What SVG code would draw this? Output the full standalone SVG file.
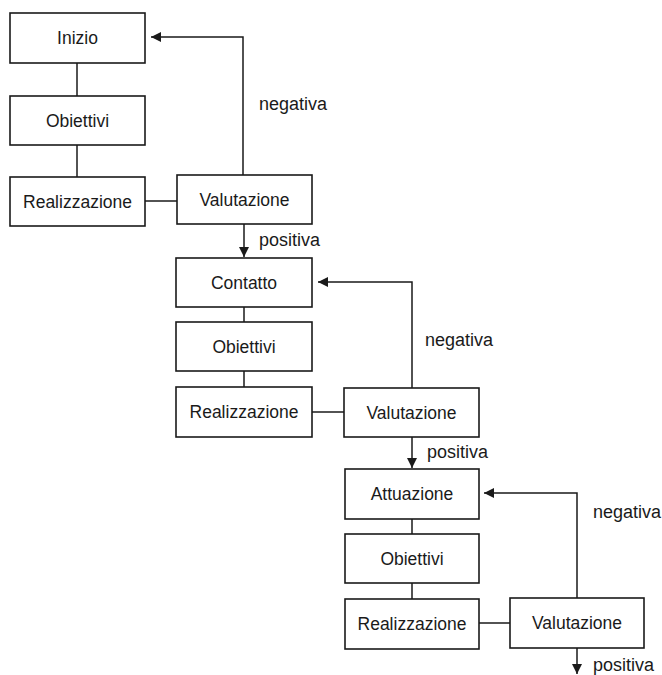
<svg xmlns="http://www.w3.org/2000/svg" width="662" height="675" viewBox="0 0 662 675">
<style>
.box{fill:#fff;stroke:#1a1a1a;stroke-width:1.6}
.t{font-family:"Liberation Sans",Arial,sans-serif;font-size:17.5px;fill:#1a1a1a;text-anchor:middle}
.l{font-family:"Liberation Sans",Arial,sans-serif;font-size:18px;fill:#1a1a1a}
.c{fill:none;stroke:#1a1a1a;stroke-width:1.5}
</style>
<defs>
<marker id="ah" viewBox="0 0 10 10" refX="10" refY="5" markerWidth="10" markerHeight="10" markerUnits="userSpaceOnUse" orient="auto">
<path d="M0,0 L10,5 L0,10 Z" fill="#1a1a1a"/>
</marker>
</defs>
<rect width="662" height="675" fill="#fff"/>
<g id="connectors">
<line class="c" x1="77" y1="63" x2="77" y2="96"/>
<line class="c" x1="77" y1="145" x2="77" y2="177"/>
<line class="c" x1="145" y1="201" x2="177" y2="201"/>
<polyline class="c" points="243,175 243,37 151,37" marker-end="url(#ah)"/>
<line class="c" x1="244" y1="224" x2="244" y2="257" marker-end="url(#ah)"/>
<line class="c" x1="244" y1="307" x2="244" y2="322"/>
<line class="c" x1="244" y1="371" x2="244" y2="387"/>
<line class="c" x1="312" y1="412" x2="344" y2="412"/>
<polyline class="c" points="412,388 412,282 318,282" marker-end="url(#ah)"/>
<line class="c" x1="412" y1="437" x2="412" y2="468" marker-end="url(#ah)"/>
<line class="c" x1="412" y1="519" x2="412" y2="534"/>
<line class="c" x1="412" y1="583" x2="412" y2="599"/>
<line class="c" x1="479" y1="623" x2="510" y2="623"/>
<polyline class="c" points="577,598 577,493 484,493" marker-end="url(#ah)"/>
<line class="c" x1="577" y1="648" x2="577" y2="674" marker-end="url(#ah)"/>
<text class="l" x="259" y="110">negativa</text>
<text class="l" x="259" y="246">positiva</text>
<text class="l" x="425" y="346">negativa</text>
<text class="l" x="427" y="458">positiva</text>
<text class="l" x="593" y="518">negativa</text>
<text class="l" x="593" y="671">positiva</text>
</g>
<g id="inizio"><rect class="box" x="10" y="13" width="135" height="50"/><text class="t" x="77.5" y="44">Inizio</text></g>
<g id="obiettivi1"><rect class="box" x="10" y="96" width="135" height="49"/><text class="t" x="77.5" y="127">Obiettivi</text></g>
<g id="realizzazione1"><rect class="box" x="10" y="177" width="135" height="49"/><text class="t" x="77.5" y="208">Realizzazione</text></g>
<g id="valutazione1"><rect class="box" x="177" y="175" width="135" height="49"/><text class="t" x="244.5" y="206">Valutazione</text></g>
<g id="contatto"><rect class="box" x="176" y="258" width="136" height="49"/><text class="t" x="244" y="289">Contatto</text></g>
<g id="obiettivi2"><rect class="box" x="176" y="322" width="136" height="49"/><text class="t" x="244" y="353">Obiettivi</text></g>
<g id="realizzazione2"><rect class="box" x="176" y="387" width="136" height="50"/><text class="t" x="244" y="418">Realizzazione</text></g>
<g id="valutazione2"><rect class="box" x="344" y="388" width="135" height="49"/><text class="t" x="411.5" y="419">Valutazione</text></g>
<g id="attuazione"><rect class="box" x="345" y="469" width="134" height="50"/><text class="t" x="412" y="500">Attuazione</text></g>
<g id="obiettivi3"><rect class="box" x="345" y="534" width="134" height="49"/><text class="t" x="412" y="565">Obiettivi</text></g>
<g id="realizzazione3"><rect class="box" x="345" y="599" width="134" height="50"/><text class="t" x="412" y="630">Realizzazione</text></g>
<g id="valutazione3"><rect class="box" x="510" y="598" width="134" height="50"/><text class="t" x="577" y="629">Valutazione</text></g>
</svg>
